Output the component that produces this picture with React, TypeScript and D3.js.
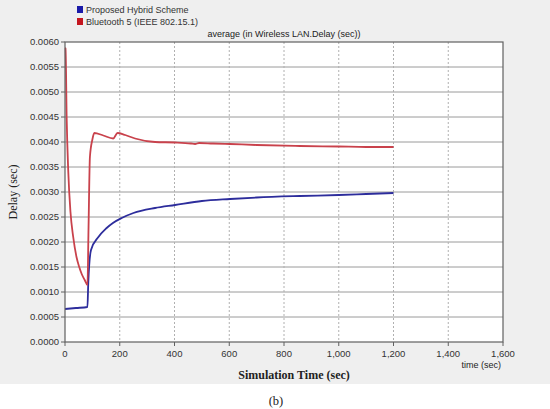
import React from "react";
import * as d3 from "d3";

const width = 550;
const height = 409;
const margin = { left: 65, right: 47, top: 42, bottom: 67 };

const seriesNames = ["Proposed Hybrid Scheme", "Bluetooth 5 (IEEE 802.15.1)"];
const seriesColors = ["#2d2d9c", "#c9424c"];
const legendColors = ["#1a1aa8", "#c4161f"];

// time (sec) / delay (sec)
const hybridTime = [0, 40, 82, 85, 95, 122, 150, 175, 207, 250, 329, 402, 500, 603, 700, 858, 1000, 1100, 1200];
const hybridDelay = [0.00066, 0.00068, 0.0007, 0.00118, 0.00184, 0.0021, 0.00227, 0.00238, 0.00248, 0.00258, 0.00268, 0.00274, 0.00282, 0.00286, 0.00289, 0.00292, 0.00294, 0.00296, 0.00298];

const btTime = [0, 2, 6, 12, 20, 30, 42, 52, 61, 72, 82, 86, 91, 100, 107, 140, 176, 192, 220, 256, 329, 402, 460, 475, 490, 540, 603, 700, 858, 1000, 1100, 1200];
const btDelay = [0.00588, 0.00587, 0.0045, 0.0034, 0.0026, 0.0021, 0.0017, 0.0015, 0.00136, 0.00124, 0.00114, 0.0023, 0.0037, 0.00405, 0.00418, 0.00413, 0.00407, 0.00418, 0.00414, 0.00407, 0.004, 0.00399, 0.00397, 0.00396, 0.00398, 0.00397, 0.00396, 0.00394, 0.00392, 0.00391, 0.0039, 0.0039];

const xTicks = [0, 200, 400, 600, 800, 1000, 1200, 1400, 1600];
const yTicks = [0, 0.0005, 0.001, 0.0015, 0.002, 0.0025, 0.003, 0.0035, 0.004, 0.0045, 0.005, 0.0055, 0.006];

export default function App() {
  const x = d3.scaleLinear().domain([0, 1600]).range([margin.left, width - margin.right]);
  const y = d3.scaleLinear().domain([0, 0.006]).range([height - margin.bottom, margin.top]);
  const line = d3
    .line<[number, number]>()
    .x((d) => x(d[0]))
    .y((d) => y(d[1]))
    .curve(d3.curveMonotoneX);

  const hybrid = hybridTime.map((t, i) => [t, hybridDelay[i]] as [number, number]);
  const bt = btTime.map((t, i) => [t, btDelay[i]] as [number, number]);
  const fmtX = d3.format(",");
  const sans = "'Liberation Sans', Arial, sans-serif";
  const serif = "'Liberation Serif', 'Times New Roman', serif";
  const [x0, x1] = x.range();
  const [y0, y1] = y.range();

  return (
    <svg width={width} height={height} style={{ position: "absolute", left: 0, top: 0 }}>
      <rect x={0} y={0} width={width} height={height} fill="#fff" />
      <rect x={0} y={0} width={width} height={384} fill="#efefef" />
      <rect x={x0} y={y1} width={x1 - x0} height={y0 - y1} fill="#fff" />

      {yTicks.slice(1, -1).map((t) => (
        <line key={"gy" + t} x1={x0} x2={x1} y1={y(t)} y2={y(t)} stroke="#9a9a9a" strokeWidth={1} />
      ))}
      {xTicks.slice(1, -1).map((t) => (
        <line key={"gx" + t} x1={x(t)} x2={x(t)} y1={y1} y2={y0} stroke="#b0b0b0" strokeWidth={1} strokeDasharray="2,2" />
      ))}

      <path d={line(hybrid) ?? ""} fill="none" stroke={seriesColors[0]} strokeWidth={1.8} />
      <path d={line(bt) ?? ""} fill="none" stroke={seriesColors[1]} strokeWidth={1.8} />

      <rect x={x0} y={y1} width={x1 - x0} height={y0 - y1} fill="none" stroke="#606060" strokeWidth={1.2} />

      {yTicks.map((t) => (
        <g key={"ty" + t}>
          <line x1={x0 - 4} x2={x0} y1={y(t)} y2={y(t)} stroke="#606060" />
          <text x={x0 - 6} y={y(t)} dy="0.35em" textAnchor="end" fontFamily={sans} fontSize={9.5} fill="#333">
            {t.toFixed(4)}
          </text>
        </g>
      ))}
      {xTicks.map((t) => (
        <g key={"tx" + t}>
          <line x1={x(t)} x2={x(t)} y1={y0} y2={y0 + 4} stroke="#606060" />
          <text x={x(t)} y={y0 + 15} textAnchor="middle" fontFamily={sans} fontSize={9.5} fill="#333">
            {fmtX(t)}
          </text>
        </g>
      ))}

      <text x={(x0 + x1) / 2} y={y1 - 5} textAnchor="middle" fontFamily={sans} fontSize={9} fill="#222">
        average (in Wireless LAN.Delay (sec))
      </text>
      <text x={x1 - 2} y={y0 + 26} textAnchor="end" fontFamily={sans} fontSize={9} fill="#222">
        time (sec)
      </text>
      <text x={(x0 + x1) / 2 + 10} y={379} textAnchor="middle" fontFamily={serif} fontSize={12} fontWeight="bold" fill="#222">
        Simulation Time (sec)
      </text>
      <text transform={`translate(17,${(y0 + y1) / 2}) rotate(-90)`} textAnchor="middle" fontFamily={serif} fontSize={12} fill="#222">
        Delay (sec)
      </text>
      <text x={276} y={405} textAnchor="middle" fontFamily={serif} fontSize={12.5} fill="#222">
        (b)
      </text>

      {seriesNames.map((name, i) => (
        <g key={name} transform={`translate(77,${6 + i * 12})`}>
          <rect x={0} y={0} width={6} height={7} fill={legendColors[i]} />
          <text x={9} y={7} fontFamily={sans} fontSize={9} fill="#333">
            {name}
          </text>
        </g>
      ))}
    </svg>
  );
}
